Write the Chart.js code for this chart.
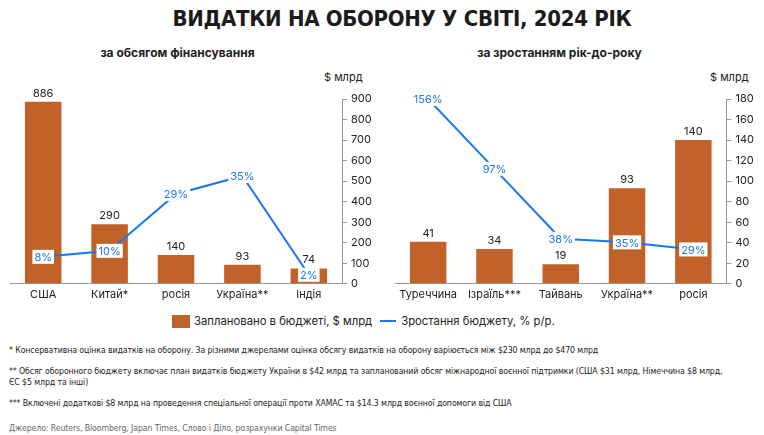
<!DOCTYPE html>
<html>
<head>
<meta charset="utf-8">
<script src="https://cdn.jsdelivr.net/npm/chart.js@4"></script>
<style>
  body { margin: 0; background: #fff; width: 764px; height: 435px; position: relative; overflow: hidden; font-family: Inter, "Noto Sans", sans-serif; color: #222; }
  .abs { position: absolute; }
  #title { left: 0; width: 804px; top: 6px; text-align: center; font-family: "Liberation Sans Narrow", "DejaVu Sans Condensed", sans-serif; font-weight: bold; font-size: 22px; letter-spacing: -0.3px; color: #1b1b1b; }
  .sub { top: 45px; font-size: 12px; font-weight: bold; text-align: center; color: #222; }
  .unit { top: 70px; font-size: 11px; color: #222; }
  #legend { top: 314px; left: 172px; font-size: 11.3px; display: flex; align-items: center; color: #222; }
  .note { left: 9px; font-family: "Liberation Sans Narrow", "DejaVu Sans Condensed", sans-serif; font-size: 8.7px; letter-spacing: -0.1px; white-space: nowrap; color: #222; line-height: 11px; }
</style>
</head>
<body>
<div id="title" class="abs">ВИДАТКИ НА ОБОРОНУ У СВІТІ, 2024 РІК</div>
<div class="abs sub" style="left:0;width:355px;">за обсягом фінансування</div>
<div class="abs sub" style="left:382px;width:355px;">за зростанням рік-до-року</div>
<div class="abs unit" style="left:324px;">$ млрд</div>
<div class="abs unit" style="left:710px;">$ млрд</div>
<div class="abs" style="left:0;top:80px;width:382px;height:225px;"><canvas id="leftChart"></canvas></div>
<div class="abs" style="left:382px;top:80px;width:382px;height:225px;"><canvas id="rightChart"></canvas></div>
<div id="legend" class="abs">
  <span style="display:inline-block;width:18px;height:13px;background:#C2622B;margin-right:4px;"></span>
  <span>Заплановано в бюджеті, $ млрд</span>
  <span style="display:inline-block;width:16px;height:2px;background:#1877F2;margin:0 5px 0 8px;"></span>
  <span>Зростання бюджету, % р/р.</span>
</div>
<div class="abs note" style="top:345px;">* Консервативна оцінка видатків на оборону. За різними джерелами оцінка обсягу видатків на оборону варіюється між $230 млрд до $470 млрд</div>
<div class="abs note" style="top:366px;">** Обсяг оборонного бюджету включає план видатків бюджету України в $42 млрд та запланований обсяг міжнародної воєнної підтримки (США $31 млрд, Німеччина $8 млрд,<br>ЄС $5 млрд та інші)</div>
<div class="abs note" style="top:398px;">*** Включені додаткові $8 млрд на проведення спеціальної операції проти ХАМАС та $14.3 млрд воєнної допомоги від США</div>
<div class="abs note" style="top:423px;color:#666;">Джерело: Reuters, Bloomberg, Japan Times, Слово і Діло, розрахунки Capital Times</div>

<script>
// дані: ліва діаграма (за обсягом)
const leftCountries = ['США', 'Китай*', 'росія', 'Україна**', 'Індія'];
const leftBudget = [886, 290, 140, 93, 74];
const leftGrowth = [8, 10, 29, 35, 2];
const leftTicks = [0, 100, 200, 300, 400, 500, 600, 700, 800, 900];

// дані: права діаграма (за зростанням)
const rightCountries = ['Туреччина', 'Ізраїль***', 'Тайвань', 'Україна**', 'росія'];
const rightBudget = [41, 34, 19, 93, 140];
const rightGrowth = [156, 97, 38, 35, 29];
const rightTicks = [0, 20, 40, 60, 80, 100, 120, 140, 160, 180];

const BAR = '#C2622B';
const LINE = '#1877F2';
const FONT = 'Inter, "Noto Sans", sans-serif';

// підписи над стовпцями та на лінії
const labelsPlugin = {
    id: 'valueLabels',
    afterDatasetsDraw(chart) {
        const ctx = chart.ctx;
        ctx.save();
        ctx.font = '11px ' + FONT;
        ctx.textAlign = 'center';
        const bars = chart.getDatasetMeta(0);
        const barData = chart.data.datasets[0].data;
        bars.data.forEach((el, i) => {
            ctx.fillStyle = '#222';
            ctx.textBaseline = 'bottom';
            ctx.fillText(String(barData[i]), el.x, el.y - 3);
        });
        const pts = chart.getDatasetMeta(1);
        const lineData = chart.data.datasets[1].data;
        ctx.textBaseline = 'middle';
        pts.data.forEach((el, i) => {
            const txt = lineData[i] + '%';
            const w = ctx.measureText(txt).width + 4;
            ctx.fillStyle = '#fff';
            ctx.fillRect(el.x - w / 2, el.y - 7, w, 14);
            ctx.fillStyle = LINE;
            ctx.fillText(txt, el.x, el.y + 1);
        });
        ctx.restore();
    }
};

function makeChart(id, labels, budget, growth, ticks, growthMin, growthMax, padLeft) {
    const ctx = document.getElementById(id).getContext('2d');
    return new Chart(ctx, {
        data: {
            labels: labels,
            datasets: [{
                type: 'bar',
                data: budget,
                backgroundColor: BAR,
                yAxisID: 'y',
                barPercentage: 0.55,
                categoryPercentage: 1.0,
                order: 2
            }, {
                type: 'line',
                data: growth,
                borderColor: LINE,
                borderWidth: 2,
                pointRadius: 0,
                tension: 0,
                yAxisID: 'y2',
                order: 1
            }]
        },
        options: {
            responsive: true,
            maintainAspectRatio: false,
            animation: false,
            layout: { padding: { top: 19, left: padLeft, right: 6, bottom: 0 } },
            plugins: { legend: { display: false }, tooltip: { enabled: false } },
            scales: {
                x: {
                    grid: { display: false, drawTicks: false },
                    border: { display: true, color: '#999', width: 1 },
                    ticks: { color: '#222', font: { family: FONT, size: 11 }, padding: 4, maxRotation: 0 }
                },
                y: {
                    position: 'right',
                    min: ticks[0],
                    max: ticks[ticks.length - 1],
                    afterBuildTicks: (axis) => { axis.ticks = ticks.map(v => ({ value: v })); },
                    grid: { drawOnChartArea: false, drawTicks: true, tickLength: 5, color: '#999' },
                    border: { display: true, color: '#999', width: 1 },
                    ticks: { color: '#222', font: { family: FONT, size: 11 }, padding: 4 }
                },
                y2: {
                    display: false,
                    min: growthMin,
                    max: growthMax
                }
            }
        },
        plugins: [labelsPlugin]
    });
}

makeChart('leftChart', leftCountries, leftBudget, leftGrowth, leftTicks, -1, 60.7, 10);
makeChart('rightChart', rightCountries, rightBudget, rightGrowth, rightTicks, 0, 156, 13);
</script>
</body>
</html>
